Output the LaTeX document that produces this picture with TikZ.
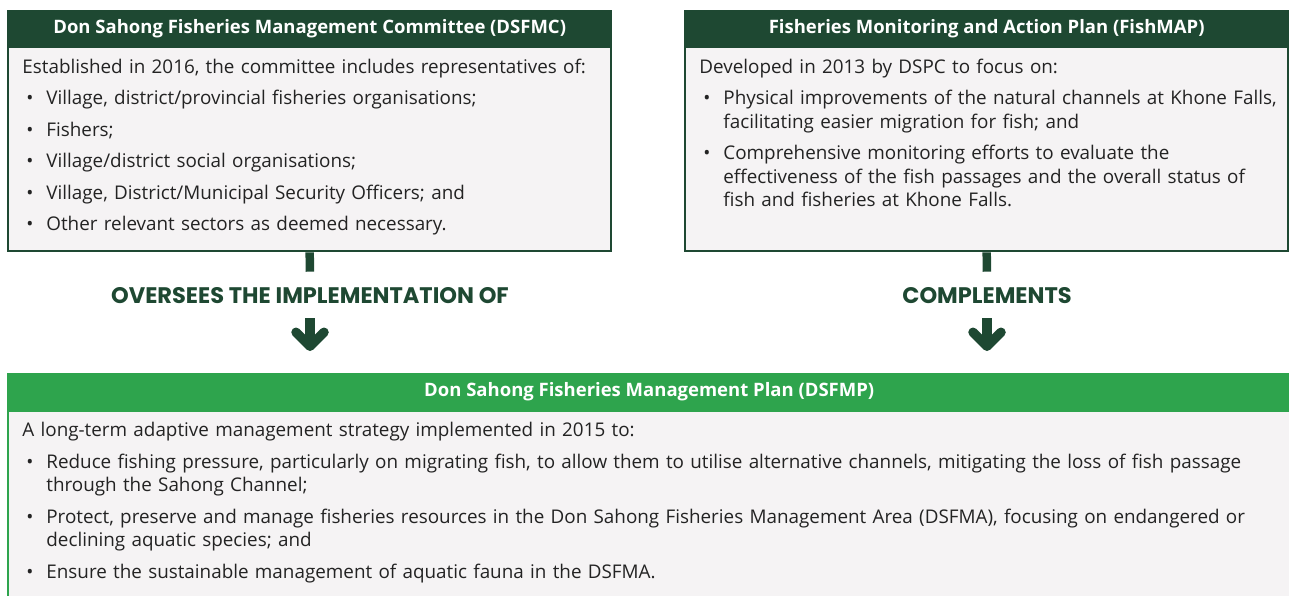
\documentclass[tikz,border=0pt]{standalone}
\usepackage{fontspec}
\setmainfont{Open Sans}
\newfontfamily\linkfont{Poppins}
\usetikzlibrary{positioning, calc, arrows.meta}
\definecolor{darkGreen}{RGB}{30, 72, 50}
\definecolor{lightGreen}{RGB}{46, 164, 77}
\definecolor{boxGrey}{RGB}{245, 243, 244}
\definecolor{textGrey}{RGB}{35, 35, 35}
\newcommand{\bodyfont}{\fontsize{18.85}{23.5}\selectfont}
\newcommand{\headfont}{\fontsize{18.5}{20}\selectfont\bfseries}
\newcommand{\itm}[1]{\par\vspace{8pt}\noindent\hangindent=24pt\hangafter=1\makebox[24pt][l]{\hspace{4pt}\textbullet}#1\par}
\tikzstyle{header} = [rectangle, minimum width=605pt, minimum height=36pt, text centered, inner sep=0pt, fill=darkGreen, text=white, font=\headfont]
\tikzstyle{body} = [rectangle, minimum width=603pt, minimum height=204pt, inner sep=0pt, draw=darkGreen, line width=2pt, fill=boxGrey]
\tikzstyle{bodytext} = [text width=585pt, align=left, inner sep=0pt, anchor=north west, font=\bodyfont, text=textGrey]
\tikzstyle{linktext} = [inner sep=0pt, text=darkGreen, font=\linkfont\fontsize{22.5}{26}\selectfont\bfseries]
\tikzstyle{stub} = [line width=8.5pt, darkGreen]
\tikzstyle{bigarrow} = [line width=9.5pt, darkGreen, -{Straight Barb[round, length=14pt, width=28pt]}]

\begin{document}
\begin{tikzpicture}[x=1pt, y=1pt]
\useasboundingbox (0,0) rectangle (1289,-595);

% DSFMC
\node (hdA) [header, anchor=north west] at (7,-10) {Don Sahong Fisheries Management Committee (DSFMC)};
\node (bodyA) [body, below=0pt of hdA] {};
\node (txtA) [bodytext] at ($(bodyA.north west)+(15,-12)$) {Established in 2016, the committee includes representatives of:
	\itm{Village, district/provincial fisheries organisations;}
	\itm{Fishers;}
	\itm{Village/district social organisations;}
	\itm{Village, District/Municipal Security Officers; and}
	\itm{Other relevant sectors as deemed necessary.}};

% FishMAP
\node (hdB) [header, anchor=north west] at (684,-10) {Fisheries Monitoring and Action Plan (FishMAP)};
\node (bodyB) [body, below=0pt of hdB] {};
\node (txtB) [bodytext] at ($(bodyB.north west)+(15,-12)$) {Developed in 2013 by DSPC to focus on:
	\itm{Physical improvements of the natural channels at Khone Falls,\newline facilitating easier migration for fish; and}
	\itm{Comprehensive monitoring efforts to evaluate the\newline effectiveness of the fish passages and the overall status of\newline fish and fisheries at Khone Falls.}};

% DSFMP
\node (hdC) [header, anchor=north west, minimum width=1284pt, minimum height=37pt, fill=lightGreen] at (7,-373) {Don Sahong Fisheries Management Plan (DSFMP)};
\node (bodyC) [body, below=0pt of hdC, minimum width=1282pt, draw=lightGreen] {};
\node (txtC) [bodytext, text width=1250pt] at ($(bodyC.north west)+(15,-12)$) {A long-term adaptive management strategy implemented in 2015 to:
	\itm{Reduce fishing pressure, particularly on migrating fish, to allow them to utilise alternative channels, mitigating the loss of fish passage\newline through the Sahong Channel;}
	\itm{Protect, preserve and manage fisheries resources in the Don Sahong Fisheries Management Area (DSFMA), focusing on endangered or\newline declining aquatic species; and}
	\itm{Ensure the sustainable management of aquatic fauna in the DSFMA.}};

% links
\node (linkA) [linktext] at (310,-296) {OVERSEES THE IMPLEMENTATION OF};
\node (linkB) [linktext] at (987,-296) {COMPLEMENTS};
\draw[stub, shorten >=16pt] (bodyA.south) -- (linkA.north);
\draw[stub, shorten >=16pt] (bodyB.south) -- (linkB.north);
\draw[bigarrow, shorten <=14pt, shorten >=22pt] (linkA.south) -- (linkA.south |- hdC.north);
\draw[bigarrow, shorten <=14pt, shorten >=22pt] (linkB.south) -- (linkB.south |- hdC.north);
\end{tikzpicture}
\end{document}
